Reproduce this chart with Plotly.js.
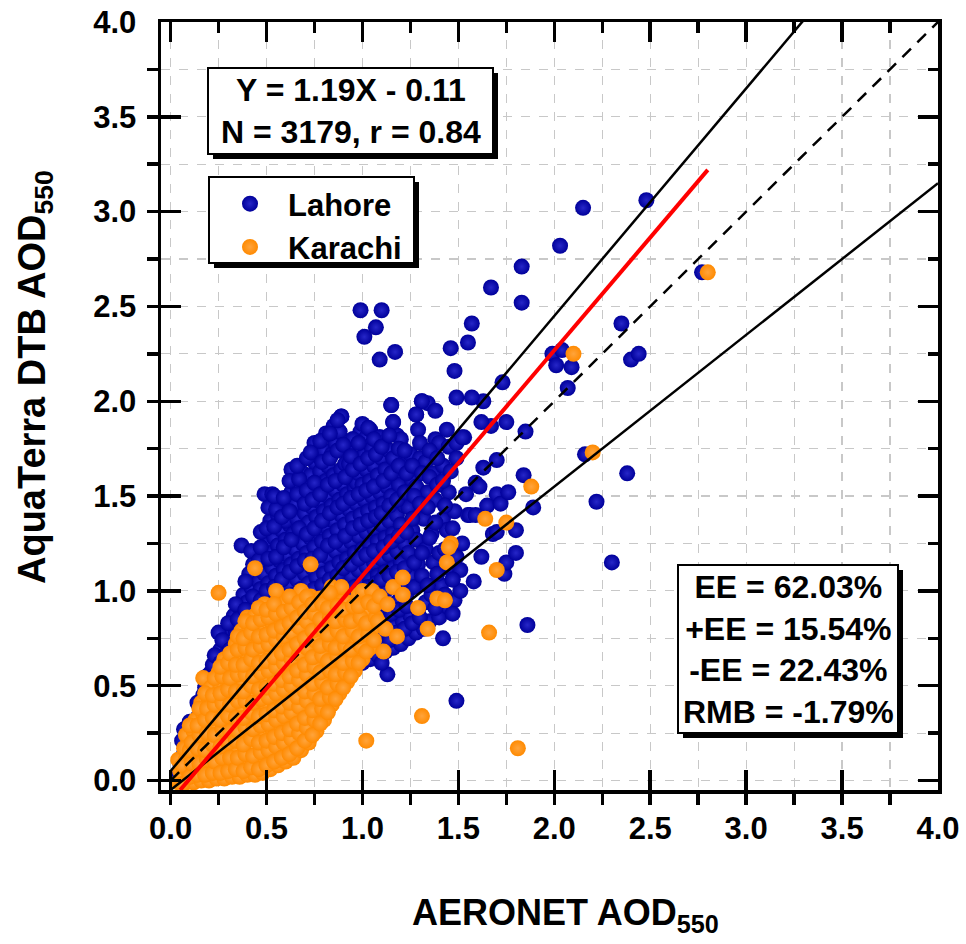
<!DOCTYPE html>
<html><head><meta charset="utf-8">
<script src="https://cdn.plot.ly/plotly-3.0.1.min.js"></script>
<style>body{margin:0;background:#fff}#chart{width:966px;height:944px}</style>
</head><body><div id="chart"></div>
<script>
// ---------- data ----------
const seriesNames = ['Lahore', 'Karachi'];
const seriesColors = ['#00009a', '#ff8a00'];
const seriesGlow = ['#2626c8', '#ffa43c'];

const lahorePts = [
[0.04,0.03],[0.05,0.09],[0.06,0.05],[0.07,0.14],
[0.08,0.04],[0.09,0.11],[0.08,0.18],[0.10,0.23],
[0.12,0.06],[0.11,0.13],[0.13,0.20],[0.12,0.27],[0.14,0.33],
[0.16,0.08],[0.15,0.16],[0.17,0.23],[0.16,0.31],[0.18,0.38],[0.17,0.45],
[0.20,0.10],[0.21,0.19],[0.19,0.27],[0.21,0.35],[0.20,0.42],[0.22,0.50],[0.21,0.57],
[0.24,0.12],[0.25,0.22],[0.23,0.30],[0.25,0.38],[0.24,0.47],[0.26,0.55],[0.24,0.62],[0.26,0.69],
[0.28,0.16],[0.29,0.25],[0.27,0.34],[0.29,0.43],[0.28,0.51],[0.30,0.59],[0.28,0.66],[0.30,0.73],
[0.31,0.80],[0.25,0.78],
[0.32,0.18],[0.33,0.28],[0.31,0.37],[0.33,0.46],[0.32,0.55],[0.34,0.63],[0.32,0.71],[0.34,0.79],[0.33,0.87],
[0.36,0.21],[0.37,0.30],[0.35,0.40],[0.37,0.49],[0.36,0.58],[0.38,0.67],[0.36,0.75],[0.38,0.83],[0.36,0.91],[0.38,0.98],
[0.37,1.24],
[0.40,0.23],[0.41,0.33],[0.39,0.43],[0.41,0.52],[0.40,0.61],[0.42,0.70],[0.40,0.78],[0.42,0.86],[0.40,0.94],[0.42,1.02],[0.41,1.09],
[0.44,0.26],[0.45,0.36],[0.43,0.46],[0.45,0.56],[0.44,0.65],[0.46,0.73],[0.44,0.81],[0.46,0.89],[0.44,0.97],[0.46,1.05],[0.45,1.12],[0.44,1.19],
[0.48,0.28],[0.49,0.39],[0.47,0.49],[0.49,0.59],[0.48,0.68],[0.50,0.77],[0.48,0.85],[0.50,0.93],[0.47,1.01],[0.49,1.09],[0.48,1.17],[0.50,1.25],[0.47,1.31],[0.49,1.51],
[0.52,0.31],[0.53,0.42],[0.51,0.52],[0.53,0.62],[0.52,0.71],[0.54,0.80],[0.52,0.88],[0.54,0.96],[0.51,1.04],[0.53,1.12],[0.52,1.20],[0.54,1.28],[0.52,1.37],[0.53,1.51],
[0.56,0.34],[0.57,0.45],[0.55,0.55],[0.57,0.65],[0.56,0.74],[0.58,0.83],[0.56,0.92],[0.58,1.00],[0.55,1.08],[0.57,1.16],[0.56,1.24],[0.58,1.32],[0.56,1.40],[0.57,1.46],
[0.60,0.36],[0.61,0.48],[0.59,0.58],[0.61,0.68],[0.60,0.77],[0.62,0.86],[0.60,0.95],[0.62,1.03],[0.59,1.11],[0.61,1.19],[0.60,1.27],[0.62,1.35],[0.60,1.37],[0.63,1.44],[0.63,1.52],
[0.64,0.39],[0.65,0.51],[0.63,0.61],[0.65,0.71],[0.64,0.80],[0.66,0.89],[0.64,0.98],[0.66,1.06],[0.63,1.14],[0.65,1.22],[0.64,1.30],[0.66,1.38],[0.65,1.46],[0.66,1.55],[0.63,1.64],
[0.68,0.42],[0.69,0.54],[0.67,0.64],[0.69,0.74],[0.68,0.83],[0.70,0.92],[0.68,1.01],[0.70,1.09],[0.67,1.17],[0.69,1.25],[0.68,1.33],[0.70,1.41],[0.69,1.49],[0.70,1.57],[0.69,1.62],
[0.72,0.45],[0.73,0.57],[0.71,0.67],[0.73,0.77],[0.72,0.86],[0.74,0.95],[0.72,1.04],[0.74,1.12],[0.71,1.20],[0.73,1.28],[0.72,1.36],[0.74,1.44],[0.74,1.52],[0.73,1.61],[0.75,1.68],[0.75,1.78],
[0.76,0.48],[0.77,0.60],[0.75,0.70],[0.77,0.80],[0.76,0.89],[0.78,0.98],[0.76,1.07],[0.78,1.15],[0.75,1.23],[0.77,1.31],[0.76,1.39],[0.78,1.47],[0.77,1.55],[0.78,1.63],[0.77,1.71],
[0.80,0.50],[0.81,0.62],[0.79,0.72],[0.81,0.82],[0.80,0.91],[0.82,1.00],[0.80,1.09],[0.82,1.18],[0.79,1.26],[0.81,1.34],[0.80,1.42],[0.82,1.50],[0.81,1.58],[0.82,1.66],[0.80,1.74],[0.81,1.83],
[0.84,0.52],[0.85,0.65],[0.83,0.75],[0.85,0.85],[0.84,0.94],[0.86,1.03],[0.84,1.12],[0.86,1.21],[0.83,1.29],[0.85,1.37],[0.84,1.45],[0.86,1.53],[0.85,1.61],[0.84,1.72],[0.86,1.78],[0.85,1.87],
[0.88,0.55],[0.89,0.68],[0.87,0.78],[0.89,0.88],[0.88,0.97],[0.90,1.06],[0.88,1.15],[0.90,1.24],[0.87,1.32],[0.89,1.40],[0.88,1.48],[0.90,1.56],[0.89,1.64],[0.91,1.67],[0.88,1.84],[0.89,1.92],
[0.92,0.58],[0.93,0.70],[0.91,0.80],[0.93,0.90],[0.92,0.99],[0.94,1.08],[0.92,1.17],[0.94,1.26],[0.91,1.35],[0.93,1.43],[0.92,1.51],[0.94,1.59],[0.93,1.67],[0.95,1.80],[0.92,1.75],
[0.96,0.60],[0.97,0.72],[0.95,0.83],[0.97,0.93],[0.96,1.02],[0.98,1.11],[0.96,1.20],[0.98,1.29],[0.95,1.38],[0.97,1.46],[0.96,1.54],[0.97,1.57],[0.98,1.62],[0.97,1.70],[0.99,1.84],
[1.00,0.62],[1.01,0.74],[0.99,0.85],[1.01,0.95],[1.00,1.04],[1.02,1.13],[1.00,1.22],[1.02,1.31],[0.99,1.40],[1.01,1.48],[1.00,1.56],[1.02,1.64],[1.01,1.72],[1.02,1.81],[1.00,1.88],
[1.04,0.64],[1.05,0.76],[1.03,0.87],[1.05,0.97],[1.04,1.06],[1.06,1.15],[1.04,1.24],[1.06,1.33],[1.03,1.42],[1.05,1.50],[1.04,1.58],[1.06,1.66],[1.05,1.75],[1.04,1.85],
[1.08,0.66],[1.09,0.78],[1.07,0.89],[1.09,0.99],[1.08,1.08],[1.10,1.17],[1.08,1.26],[1.10,1.35],[1.07,1.44],[1.09,1.52],[1.08,1.61],[1.10,1.70],[1.09,1.81],
[1.13,0.56],[1.12,0.68],[1.13,0.80],[1.11,0.91],[1.13,1.01],[1.12,1.10],[1.14,1.19],[1.12,1.28],[1.14,1.37],[1.11,1.46],[1.13,1.55],[1.12,1.64],[1.14,1.74],[1.16,1.89],[1.15,1.98],
[1.16,0.70],[1.17,0.82],[1.15,0.93],[1.17,1.03],[1.16,1.12],[1.18,1.21],[1.16,1.30],[1.18,1.40],[1.15,1.50],[1.17,1.60],[1.16,1.70],[1.18,1.82],
[1.20,0.72],[1.21,0.84],[1.19,0.95],[1.21,1.05],[1.20,1.15],[1.22,1.25],[1.20,1.35],[1.22,1.45],[1.19,1.56],[1.21,1.67],[1.20,1.80],
[1.24,0.75],[1.25,0.87],[1.23,0.98],[1.25,1.08],[1.24,1.20],[1.26,1.32],[1.24,1.44],[1.26,1.58],[1.25,1.72],[1.28,1.93],
[1.28,0.78],[1.29,0.90],[1.27,1.02],[1.29,1.14],[1.28,1.27],[1.30,1.40],[1.28,1.55],[1.30,1.70],[1.29,1.85],[1.31,2.00],
[1.32,0.80],[1.35,0.84],[1.33,0.94],[1.31,1.08],[1.33,1.22],[1.32,1.38],[1.34,1.52],[1.33,1.68],[1.34,1.99],
[1.36,0.98],[1.37,1.15],[1.36,1.30],[1.38,1.48],[1.37,1.62],[1.38,1.80],[1.38,1.95],
[1.40,0.86],[1.42,0.75],[1.41,1.03],[1.40,1.20],[1.42,1.38],[1.41,1.56],[1.40,1.78],[1.42,1.66],
[1.44,0.92],[1.45,1.12],[1.44,1.32],[1.45,1.52],[1.45,1.76],[1.44,1.85],
[1.48,0.95],[1.47,1.06],[1.49,1.18],[1.48,1.42],[1.49,1.70],[1.49,1.78],
[1.51,1.00],[1.51,1.11],[1.52,1.25],[1.54,1.51],[1.55,1.40],[1.53,1.81],[1.52,1.81],
[1.56,1.40],[1.58,1.05],[1.59,1.40],[1.59,1.57],[1.61,1.55],[1.62,1.18],[1.65,1.45],[1.68,1.30],[1.70,1.31],[1.70,1.51],
[1.72,1.46],[1.76,1.52],[1.74,1.09],[1.75,1.15],[1.80,1.20],[1.80,1.32],[1.84,1.61],[1.89,1.44],[1.86,0.82],[1.49,0.42],
[1.67,1.87],[1.75,1.89],[1.85,1.84],[1.63,2.00],[1.49,2.02],[1.57,2.02],[1.73,2.10],[1.62,1.89],[1.70,1.69],[1.63,1.65],
[0.99,2.48],[1.10,2.48],[1.07,2.39],[1.01,2.34],[1.09,2.22],[1.17,2.26],[2.15,3.02],[2.48,3.06],[2.03,2.82],[1.83,2.71],
[1.67,2.60],[1.83,2.52],[1.57,2.41],[1.55,2.31],[1.46,2.28],[1.48,2.16],[1.99,2.25],[2.04,2.27],[2.01,2.19],[2.09,2.18],
[2.07,2.07],[2.35,2.41],[2.40,2.22],[2.44,2.25],[2.16,1.72],[2.38,1.62],[2.22,1.47],[2.30,1.15],[2.77,2.68],
[1.15,1.98],[1.31,2.00],[0.89,1.92],[0.88,1.84],[0.95,1.80],[1.16,1.89],[1.28,1.93],[1.09,1.81],[1.44,1.32],[1.47,1.06],
[0.06,0.21],[0.10,0.31],[0.07,0.27],[0.14,0.41],[0.15,0.24],[0.13,0.09],
[0.18,0.13],[0.19,0.33],[0.18,0.49],[0.19,0.55],[0.22,0.16],[0.23,0.43],[0.22,0.61],[0.23,0.66],[0.22,0.25],
[0.26,0.27],[0.27,0.48],[0.26,0.62],[0.27,0.74],[0.27,0.07],[0.30,0.21],[0.31,0.52],[0.30,0.65],[0.31,0.69],[0.30,0.83],
[0.34,0.25],[0.35,0.51],[0.34,0.68],[0.35,0.85],[0.34,0.93],[0.38,0.34],[0.39,0.59],[0.38,0.74],[0.39,0.90],[0.39,1.05],
[0.42,0.41],[0.43,0.63],[0.42,0.79],[0.43,0.97],[0.43,1.14],[0.42,1.21],[0.46,0.46],[0.47,0.67],[0.46,0.82],[0.47,0.95],[0.46,1.16],[0.47,1.23],
[0.50,0.50],[0.51,0.73],[0.50,1.00],[0.51,1.17],[0.50,1.33],[0.51,1.44],[0.54,0.58],[0.55,0.77],[0.54,1.02],[0.55,1.18],[0.54,1.34],[0.55,1.43],[0.54,1.50],
[0.58,0.61],[0.59,0.87],[0.58,1.06],[0.59,1.23],[0.58,1.39],[0.59,1.49],[0.62,0.64],[0.63,0.92],[0.62,1.10],[0.63,1.27],[0.62,1.42],[0.62,1.58],
[0.66,0.68],[0.67,0.96],[0.66,1.13],[0.67,1.33],[0.66,1.51],[0.67,1.59],[0.66,1.66],[0.70,0.71],[0.71,0.99],[0.70,1.16],[0.71,1.30],[0.70,1.46],[0.71,1.53],[0.71,1.70],
[0.74,0.82],[0.75,1.01],[0.74,1.17],[0.75,1.33],[0.74,1.48],[0.75,1.57],[0.73,1.73],[0.78,0.85],[0.79,1.03],[0.78,1.19],[0.79,1.37],[0.78,1.51],[0.79,1.68],[0.78,1.79],
[0.82,0.77],[0.83,1.06],[0.82,1.24],[0.83,1.41],[0.82,1.56],[0.83,1.70],[0.83,1.83],[0.86,0.80],[0.87,1.08],[0.86,1.26],[0.87,1.44],[0.86,1.58],[0.87,1.74],[0.87,1.90],
[0.90,0.63],[0.91,0.93],[0.90,1.12],[0.91,1.29],[0.90,1.46],[0.91,1.60],[0.90,1.77],[0.94,0.66],[0.95,0.96],[0.94,1.14],[0.95,1.33],[0.94,1.49],[0.95,1.64],[0.94,1.71],
[0.98,0.68],[0.99,0.99],[0.98,1.17],[0.99,1.35],[0.98,1.51],[0.99,1.67],[0.98,1.78],[1.02,0.70],[1.03,1.02],[1.02,1.19],[1.03,1.37],[1.02,1.53],[1.03,1.70],[1.03,1.86],
[1.06,0.72],[1.07,1.04],[1.06,1.21],[1.07,1.39],[1.06,1.55],[1.07,1.72],[1.06,1.80],[1.10,0.62],[1.11,0.86],[1.10,1.06],[1.11,1.23],[1.10,1.41],[1.11,1.58],[1.10,1.76],
[1.14,0.74],[1.15,0.88],[1.14,1.08],[1.15,1.26],[1.14,1.45],[1.15,1.62],[1.14,1.82],[1.18,0.78],[1.19,0.90],[1.18,1.10],[1.19,1.29],[1.18,1.48],[1.19,1.66],[1.19,1.75],
[1.22,0.80],[1.23,0.92],[1.22,1.12],[1.23,1.31],[1.22,1.52],[1.23,1.62],[1.22,1.74],[1.26,0.83],[1.27,1.15],[1.26,1.38],[1.27,1.50],[1.26,1.66],
[1.30,0.86],[1.31,1.20],[1.30,1.46],[1.31,1.62],[1.30,1.78],[1.34,1.03],[1.35,1.28],[1.34,1.44],[1.35,1.60],[1.35,1.74],
[1.38,0.91],[1.39,1.09],[1.38,1.36],[1.39,1.56],[1.39,1.70],[1.43,0.98],[1.43,1.22],[1.43,1.45],[1.42,1.58],[1.47,1.33],[1.46,1.63],[1.47,0.88]
];

const karachiPts = [
[0.04,-0.01],[0.05,0.05],[0.04,0.11],[0.06,0.02],
[0.08,-0.01],[0.09,0.05],[0.08,0.11],[0.09,0.18],[0.08,0.24],
[0.12,-0.01],[0.13,0.05],[0.11,0.12],[0.13,0.19],[0.12,0.26],[0.13,0.32],
[0.16,0.00],[0.17,0.07],[0.15,0.14],[0.17,0.21],[0.16,0.28],[0.17,0.35],[0.16,0.41],[0.17,0.54],
[0.20,0.00],[0.21,0.07],[0.19,0.14],[0.21,0.21],[0.20,0.28],[0.22,0.35],[0.20,0.42],[0.21,0.49],
[0.24,0.01],[0.25,0.08],[0.23,0.15],[0.25,0.22],[0.24,0.29],[0.26,0.36],[0.24,0.43],[0.26,0.50],[0.25,0.57],[0.25,0.99],
[0.28,0.01],[0.29,0.08],[0.27,0.15],[0.29,0.22],[0.28,0.29],[0.30,0.36],[0.28,0.43],[0.30,0.50],[0.29,0.57],[0.28,0.64],
[0.32,0.02],[0.33,0.09],[0.31,0.16],[0.33,0.23],[0.32,0.30],[0.34,0.37],[0.32,0.44],[0.34,0.51],[0.33,0.58],[0.32,0.65],[0.34,0.72],
[0.36,0.02],[0.37,0.09],[0.35,0.16],[0.37,0.23],[0.36,0.30],[0.38,0.37],[0.36,0.44],[0.38,0.51],[0.37,0.58],[0.36,0.65],[0.38,0.72],[0.37,0.79],
[0.40,0.03],[0.41,0.10],[0.39,0.17],[0.41,0.24],[0.40,0.31],[0.42,0.38],[0.40,0.45],[0.42,0.52],[0.41,0.59],[0.40,0.66],[0.42,0.73],[0.41,0.80],[0.40,0.86],
[0.44,0.03],[0.45,0.10],[0.43,0.17],[0.45,0.24],[0.44,0.31],[0.46,0.38],[0.44,0.45],[0.46,0.52],[0.45,0.59],[0.44,0.66],[0.46,0.73],[0.45,0.80],[0.44,0.87],[0.44,1.12],
[0.48,0.04],[0.49,0.11],[0.47,0.18],[0.49,0.25],[0.48,0.32],[0.50,0.39],[0.48,0.46],[0.50,0.53],[0.49,0.60],[0.48,0.67],[0.50,0.74],[0.49,0.81],[0.48,0.88],[0.49,0.93],
[0.52,0.06],[0.53,0.13],[0.51,0.20],[0.53,0.27],[0.52,0.34],[0.54,0.41],[0.52,0.48],[0.54,0.55],[0.53,0.62],[0.52,0.69],[0.54,0.76],[0.53,0.83],[0.52,0.90],[0.55,1.00],
[0.56,0.08],[0.57,0.15],[0.55,0.22],[0.57,0.29],[0.56,0.36],[0.58,0.43],[0.56,0.50],[0.58,0.57],[0.57,0.64],[0.56,0.71],[0.58,0.78],[0.57,0.85],[0.56,0.92],
[0.60,0.10],[0.61,0.17],[0.59,0.24],[0.61,0.31],[0.60,0.38],[0.62,0.45],[0.60,0.52],[0.62,0.59],[0.61,0.66],[0.60,0.73],[0.62,0.80],[0.61,0.87],[0.60,0.94],
[0.64,0.12],[0.65,0.19],[0.63,0.26],[0.65,0.33],[0.64,0.40],[0.66,0.47],[0.64,0.54],[0.66,0.61],[0.65,0.68],[0.64,0.75],[0.66,0.82],[0.65,0.89],[0.64,0.96],
[0.68,0.16],[0.69,0.23],[0.67,0.30],[0.69,0.37],[0.68,0.44],[0.70,0.51],[0.68,0.58],[0.70,0.65],[0.69,0.72],[0.68,0.79],[0.70,0.86],[0.69,0.93],[0.68,1.00],
[0.72,0.20],[0.73,0.27],[0.71,0.34],[0.73,0.41],[0.72,0.48],[0.74,0.55],[0.72,0.62],[0.74,0.69],[0.73,0.76],[0.72,0.83],[0.74,0.90],[0.73,0.97],[0.73,1.14],
[0.76,0.26],[0.77,0.33],[0.75,0.40],[0.77,0.47],[0.76,0.54],[0.78,0.61],[0.76,0.68],[0.78,0.75],[0.77,0.82],[0.76,0.89],[0.78,0.96],
[0.80,0.32],[0.81,0.39],[0.79,0.46],[0.81,0.53],[0.80,0.60],[0.82,0.67],[0.80,0.74],[0.82,0.81],[0.81,0.88],[0.80,0.95],[0.84,1.02],
[0.84,0.40],[0.85,0.47],[0.83,0.54],[0.85,0.61],[0.84,0.68],[0.86,0.75],[0.84,0.82],[0.86,0.89],[0.85,0.96],
[0.88,0.46],[0.89,0.53],[0.87,0.60],[0.89,0.67],[0.88,0.74],[0.90,0.81],[0.88,0.88],[0.90,0.95],[0.89,1.02],
[0.92,0.52],[0.93,0.59],[0.91,0.66],[0.93,0.73],[0.92,0.80],[0.94,0.87],[0.92,0.94],
[0.96,0.58],[0.97,0.66],[0.95,0.74],[0.97,0.82],[0.96,0.90],[0.98,0.98],
[1.00,0.64],[1.01,0.72],[0.99,0.80],[1.01,0.88],[1.00,1.00],
[1.04,0.70],[1.05,0.80],[1.03,0.90],[1.05,1.00],
[0.06,0.08],[0.07,0.17],[0.06,-0.02],[0.10,0.02],[0.11,0.09],[0.10,0.16],[0.11,0.20],[0.10,0.29],
[0.14,0.03],[0.15,0.09],[0.14,0.17],[0.15,0.24],[0.14,0.29],[0.15,0.38],
[0.18,0.03],[0.19,0.11],[0.18,0.16],[0.19,0.25],[0.18,0.32],[0.19,0.38],[0.18,0.46],
[0.22,0.04],[0.23,0.10],[0.22,0.19],[0.23,0.24],[0.22,0.33],[0.23,0.40],[0.22,0.45],[0.23,0.54],
[0.26,0.04],[0.27,0.12],[0.26,0.18],[0.27,0.27],[0.26,0.32],[0.27,0.41],[0.26,0.46],[0.27,0.55],[0.26,0.60],
[0.30,0.05],[0.31,0.12],[0.30,0.20],[0.31,0.26],[0.30,0.34],[0.31,0.40],[0.30,0.48],[0.31,0.54],[0.30,0.62],[0.31,0.67],
[0.34,0.06],[0.35,0.12],[0.34,0.21],[0.35,0.26],[0.34,0.33],[0.35,0.42],[0.34,0.47],[0.35,0.56],[0.34,0.61],[0.35,0.69],[0.35,0.76],
[0.38,0.05],[0.39,0.14],[0.38,0.19],[0.39,0.28],[0.38,0.33],[0.39,0.42],[0.38,0.47],[0.39,0.56],[0.38,0.61],[0.39,0.70],[0.38,0.75],[0.39,0.84],
[0.42,0.07],[0.43,0.13],[0.42,0.22],[0.43,0.27],[0.42,0.36],[0.43,0.41],[0.42,0.50],[0.43,0.55],[0.42,0.64],[0.43,0.69],[0.42,0.78],[0.43,0.83],
[0.46,0.06],[0.47,0.15],[0.46,0.20],[0.47,0.29],[0.46,0.34],[0.47,0.43],[0.46,0.48],[0.47,0.57],[0.46,0.62],[0.47,0.71],[0.46,0.76],[0.47,0.85],[0.46,0.91],
[0.50,0.08],[0.51,0.16],[0.50,0.21],[0.51,0.30],[0.50,0.35],[0.51,0.44],[0.50,0.49],[0.51,0.58],[0.50,0.63],[0.51,0.72],[0.50,0.77],[0.51,0.86],[0.50,0.90],
[0.54,0.10],[0.55,0.18],[0.54,0.23],[0.55,0.32],[0.54,0.37],[0.55,0.46],[0.54,0.51],[0.55,0.60],[0.54,0.65],[0.55,0.74],[0.54,0.79],[0.55,0.88],[0.54,0.93],
[0.58,0.12],[0.59,0.20],[0.58,0.25],[0.59,0.34],[0.58,0.39],[0.59,0.48],[0.58,0.53],[0.59,0.62],[0.58,0.67],[0.59,0.76],[0.58,0.81],[0.59,0.89],
[0.62,0.14],[0.63,0.22],[0.62,0.27],[0.63,0.36],[0.62,0.41],[0.63,0.50],[0.62,0.55],[0.63,0.64],[0.62,0.69],[0.63,0.78],[0.62,0.83],[0.63,0.91],[0.62,0.97],
[0.66,0.17],[0.67,0.25],[0.66,0.30],[0.67,0.39],[0.66,0.44],[0.67,0.53],[0.66,0.58],[0.67,0.67],[0.66,0.72],[0.67,0.81],[0.66,0.86],[0.67,0.94],
[0.70,0.21],[0.71,0.28],[0.70,0.33],[0.71,0.42],[0.70,0.47],[0.71,0.56],[0.70,0.61],[0.71,0.70],[0.70,0.75],[0.71,0.84],[0.70,0.89],[0.71,0.97],
[0.74,0.24],[0.75,0.32],[0.74,0.37],[0.75,0.46],[0.74,0.51],[0.75,0.60],[0.74,0.65],[0.75,0.74],[0.74,0.79],[0.75,0.88],[0.74,0.93],
[0.78,0.30],[0.79,0.38],[0.78,0.43],[0.79,0.52],[0.78,0.57],[0.79,0.66],[0.78,0.71],[0.79,0.80],[0.78,0.85],[0.79,0.93],
[0.82,0.36],[0.83,0.44],[0.82,0.49],[0.83,0.58],[0.82,0.63],[0.83,0.72],[0.82,0.77],[0.83,0.86],[0.82,0.91],[0.83,0.99],
[0.86,0.43],[0.87,0.51],[0.86,0.56],[0.87,0.65],[0.86,0.70],[0.87,0.79],[0.86,0.84],[0.87,0.92],
[0.90,0.49],[0.91,0.57],[0.90,0.62],[0.91,0.71],[0.90,0.76],[0.91,0.85],[0.90,0.90],
[0.94,0.55],[0.95,0.63],[0.94,0.69],[0.95,0.79],[0.94,0.84],[0.95,0.92],
[0.98,0.62],[0.99,0.71],[0.98,0.76],[0.99,0.86],[0.98,0.92],[1.02,0.68],[1.03,0.77],[1.02,0.83],[1.03,0.94],[1.06,0.74],[1.07,0.86],[1.06,0.92],
[1.09,0.97],[1.08,0.84],[1.11,0.68],[1.12,0.80],[1.13,0.93],[1.16,1.02],[1.18,0.76],[1.21,0.98],[1.21,1.07],[1.29,0.91],
[1.34,0.80],[1.39,0.96],[1.43,0.95],[1.44,1.15],[1.46,1.25],[1.45,1.23],
[1.02,0.21],[1.31,0.34],[1.81,0.17],[1.66,0.78],[1.70,1.11],[1.64,1.38],[1.75,1.36],[1.88,1.55],[2.10,2.25],[2.20,1.73],[2.80,2.68]
];

// reference lines (end points)
const oneToOneX = [0, 4],    oneToOneY = [0, 4];
const eeUpperX  = [0, 4],    eeUpperY  = [0.05, 4.85];
const eeLowerX  = [0, 4],    eeLowerY  = [-0.05, 3.15];
const fitX      = [0.05, 2.80], fitY   = [-0.05, 3.22];

const tickVals  = [0, 0.5, 1, 1.5, 2, 2.5, 3, 3.5, 4];
const tickText  = ['0.0','0.5','1.0','1.5','2.0','2.5','3.0','3.5','4.0'];

const statsLines = ['Y = 1.19X - 0.11', 'N = 3179, r = 0.84'];
const eeLines    = ['EE = 62.03%', '+EE = 15.54%', '-EE = 22.43%', 'RMB = -1.79%'];
const xTitle = 'AERONET AOD<sub>550</sub>';
const yTitle = 'AquaTerra DTB AOD<sub>550</sub>';

// ---------- figure ----------
const FONT = 'Liberation Sans, Arial, Helvetica, sans-serif';
const AXRANGE = [-0.05, 4.0];
const L = 161, R = 938, T = 22, B = 790, PW = R - L, PH = B - T;
const px = v => (v - L) / PW, py = v => (B - v) / PH;

function scatter(pts, i) {
  return {
    type: 'scatter', mode: 'markers', name: seriesNames[i],
    x: pts.map(p => p[0]), y: pts.map(p => p[1]),
    xaxis: 'x', yaxis: 'y', cliponaxis: true,
    marker: { size: 16, color: seriesColors[i], line: { width: 0 },
              gradient: { type: 'radial', color: seriesGlow[i] } },
    hoverinfo: 'x+y'
  };
}
function line(x, y, color, width, dash) {
  return { type: 'scatter', mode: 'lines', x: x, y: y, xaxis: 'x2', yaxis: 'y2',
           showlegend: false, hoverinfo: 'skip',
           line: { color: color, width: width, dash: dash || 'solid' } };
}

const data = [
  scatter(lahorePts, 0),
  scatter(karachiPts, 1),
  line(eeUpperX, eeUpperY, '#000', 2.5),
  line(eeLowerX, eeLowerY, '#000', 2.5),
  line(oneToOneX, oneToOneY, '#000', 2.5, '12px,9px'),
  line(fitX, fitY, '#ff0000', 4)
];

const gridCol = '#c8c8c8';
const baseAxis = {
  range: AXRANGE, autorange: false, zeroline: false,
  showline: true, linecolor: '#000', linewidth: 3.5,
  tickmode: 'array', tickvals: tickVals, ticktext: tickText,
  tickcolor: '#000', tickwidth: 3.5,
  tickfont: { family: FONT, size: 31, color: '#000', weight: 'bold' }
};

const layout = {
  width: 966, height: 944,
  margin: { l: L, r: 966 - R, t: T, b: 944 - B },
  paper_bgcolor: '#fff', plot_bgcolor: '#fff',
  showlegend: true,
  legend: {
    x: px(212), y: py(177), xanchor: 'left', yanchor: 'top',
    bgcolor: 'rgba(0,0,0,0)', borderwidth: 0,
    font: { family: FONT, size: 31, color: '#000', weight: 'bold' },
    itemsizing: 'trace', itemwidth: 66, tracegroupgap: 0
  },
  xaxis: Object.assign({}, baseAxis, {
    ticks: 'inside', ticklen: 20, ticklabelstandoff: 8,
    showgrid: true, gridcolor: gridCol, griddash: 'dash', gridwidth: 1.2,
    minor: { dtick: 0.25, tick0: 0, ticks: 'outside', ticklen: 11, tickwidth: 3.5, tickcolor: '#000',
             showgrid: true, gridcolor: gridCol, griddash: 'dash', gridwidth: 1.2 }
  }),
  yaxis: Object.assign({}, baseAxis, {
    ticks: 'inside', ticklen: 20, ticklabelstandoff: 15,
    showgrid: true, gridcolor: gridCol, griddash: 'dash', gridwidth: 1.2,
    minor: { dtick: 0.25, tick0: 0, ticks: 'outside', ticklen: 11, tickwidth: 3.5, tickcolor: '#000',
             showgrid: true, gridcolor: gridCol, griddash: 'dash', gridwidth: 1.2 }
  }),
  xaxis2: Object.assign({}, baseAxis, {
    overlaying: 'x', side: 'top', anchor: 'y2', showticklabels: false,
    ticks: 'inside', ticklen: 20, showgrid: false,
    minor: { dtick: 0.25, tick0: 0, ticks: 'inside', ticklen: 11, tickwidth: 3.5, tickcolor: '#000', showgrid: false }
  }),
  yaxis2: Object.assign({}, baseAxis, {
    overlaying: 'y', side: 'right', anchor: 'x2', showticklabels: false,
    ticks: 'inside', ticklen: 20, showgrid: false,
    minor: { dtick: 0.25, tick0: 0, ticks: 'inside', ticklen: 10, tickwidth: 3.5, tickcolor: '#000', showgrid: false }
  }),
  shapes: [],
  annotations: []
};

// framed boxes with drop shadows (frames as shapes, text as annotations)
function frame(x0, y0, x1, y1) {
  layout.shapes.push({ type: 'rect', xref: 'paper', yref: 'paper', layer: 'above',
    x0: px(x0 + 5), x1: px(x1 + 5), y0: py(y1 + 5), y1: py(y0 + 5), fillcolor: '#000', line: { width: 0 } });
  layout.shapes.push({ type: 'rect', xref: 'paper', yref: 'paper', layer: 'above',
    x0: px(x0), x1: px(x1), y0: py(y1), y1: py(y0), fillcolor: '#fff', line: { color: '#000', width: 2 } });
}
frame(209, 177, 414, 263);   // legend
frame(208, 68, 493, 154);    // regression stats
frame(678, 565, 898, 733);   // EE stats

const boxFont = { family: FONT, size: 32, color: '#000', weight: 'bold' };
layout.annotations.push({ xref: 'paper', yref: 'paper', x: px(350.5), y: py(111),
  xanchor: 'center', yanchor: 'middle', showarrow: false, align: 'center',
  text: statsLines.join('<br>'), font: boxFont });
layout.annotations.push({ xref: 'paper', yref: 'paper', x: px(788), y: py(649),
  xanchor: 'center', yanchor: 'middle', showarrow: false, align: 'center',
  text: eeLines.join('<br>'), font: boxFont });

layout.annotations.push({
  xref: 'paper', yref: 'paper', x: px(565), y: py(915),
  xanchor: 'center', yanchor: 'middle', showarrow: false, text: xTitle,
  font: { family: FONT, size: 36, color: '#000', weight: 'bold' }
});
layout.annotations.push({
  xref: 'paper', yref: 'paper', x: px(35), y: py(377),
  xanchor: 'center', yanchor: 'middle', showarrow: false, text: yTitle, textangle: -90,
  font: { family: FONT, size: 38, color: '#000', weight: 'bold' }
});

Plotly.newPlot('chart', data, layout, { displayModeBar: false, staticPlot: true });
</script>
</body></html>
